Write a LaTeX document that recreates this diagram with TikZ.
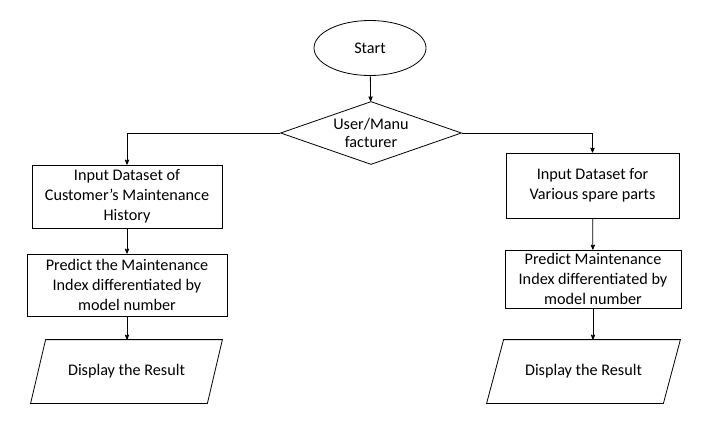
\documentclass[tikz,border=0pt]{standalone}
\usepackage{fontspec}
\setmainfont{Carlito}
\usetikzlibrary{arrows,shapes.geometric}
\begin{document}
\begin{tikzpicture}[x=1pt,y=-1pt,>=stealth',line width=0.8pt,
        font=\fontsize{16.2}{20}\selectfont,
        start node/.style={ellipse,draw,minimum width=112pt,minimum height=55pt,inner sep=0pt},
        choice node/.style={diamond,draw,aspect=2.85,inner sep=0pt,minimum width=181pt,minimum height=63pt,align=center,font=\fontsize{16.2}{18}\selectfont},
        main node/.style={rectangle,draw,align=center,inner sep=0pt},
        io node/.style={rectangle,minimum width=176pt,minimum height=63pt,inner sep=0pt}]
        \useasboundingbox (0,0) rectangle (720,442);
        \node[start node] (1) at (370,48) {Start};
        \node[choice node] (2) at (371,133) {User/Manu\\facturer};
        \node[main node, minimum width=190pt, minimum height=63pt] (3) at (127,196.5) {Input Dataset of\\Customer’s Maintenance\\History};
        \node[main node, minimum width=200pt, minimum height=62pt] (4) at (127,285) {Predict the Maintenance\\Index differentiated by\\model number};
        \node[io node] (5) at (126.5,371.5) {Display the Result};
        \node[main node, minimum width=173pt, minimum height=65pt] (6) at (592.5,185.5) {Input Dataset for\\Various spare parts};
        \node[main node, minimum width=176pt, minimum height=58pt] (7) at (593,279) {Predict Maintenance\\Index differentiated by\\model number};
        \node[io node] (8) at (583.5,371.5) {Display the Result};
        \draw ([xshift=7.5pt]5.north west) -- ([xshift=7.5pt]5.north east) -- ([xshift=-7.5pt]5.south east) -- ([xshift=-7.5pt]5.south west) -- cycle;
        \draw ([xshift=8.5pt]8.north west) -- ([xshift=8.5pt]8.north east) -- ([xshift=-8.5pt]8.south east) -- ([xshift=-8.5pt]8.south west) -- cycle;
        \path[->]
        (1) edge (2)
        (2.west) edge[to path={-| (\tikztotarget)}] (3.north)
        (2.east) edge[to path={-| (\tikztotarget)}] (6.north)
        (3) edge (4)
        (4) edge (4 |- 5.north)
        (6) edge (7)
        (7) edge (7 |- 8.north)
        ;
        \end{tikzpicture}
\end{document}
